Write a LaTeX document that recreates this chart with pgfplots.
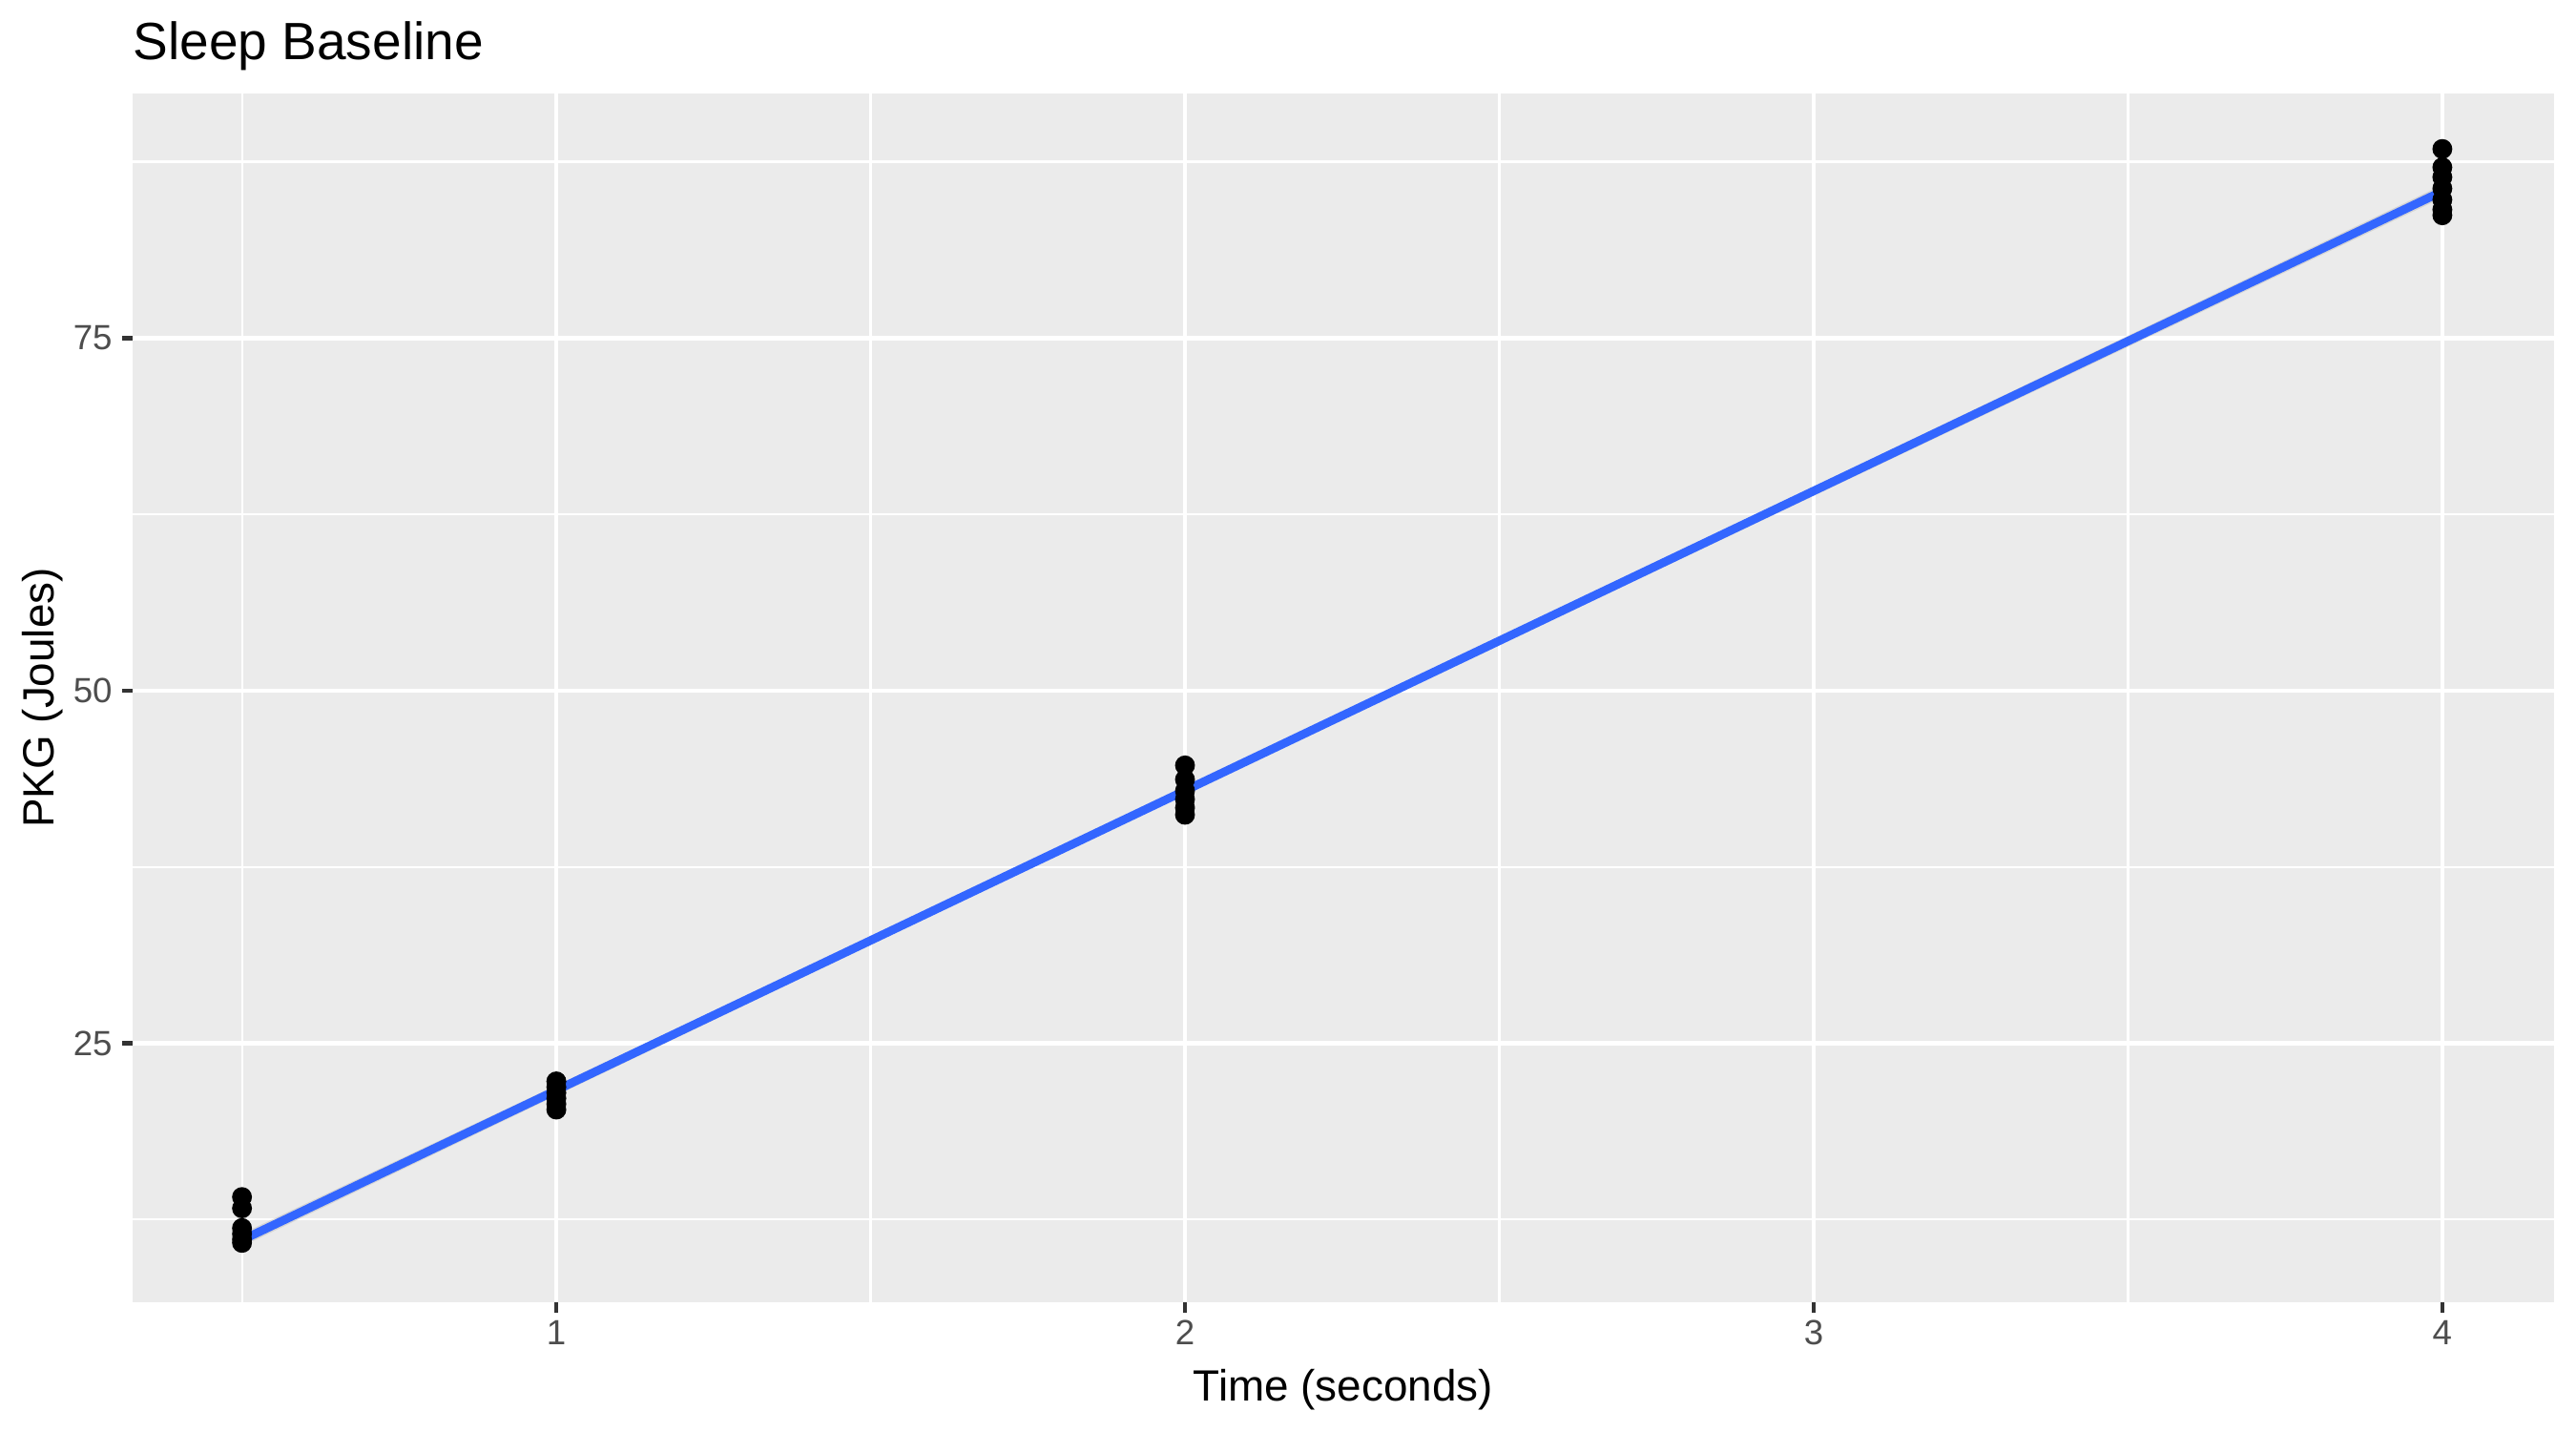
\documentclass[border=0pt]{standalone}
\usepackage{fontspec}
\setmainfont{Liberation Sans}
\usepackage{pgfplots}
\pgfplotsset{compat=1.18}
\definecolor{panelbg}{HTML}{EBEBEB}
\definecolor{ggblue}{HTML}{3366FF}
\definecolor{gray30}{HTML}{4D4D4D}
\definecolor{gray20}{HTML}{333333}
\begin{document}
\begin{tikzpicture}
\path[use as bounding box] (0,0) rectangle (648pt,360pt);
\begin{axis}[
  at={(33.36pt,32.4pt)}, anchor=south west,
  scale only axis, width=609.0pt, height=304.1pt,
  xmin=0.326, xmax=4.177, ymin=6.64, ymax=92.34,
  axis background/.style={fill=panelbg},
  axis line style={draw=none},
  xtick={1,2,3,4}, ytick={25,50,75},
  minor xtick={0.5,1.5,2.5,3.5}, minor ytick={12.5,37.5,62.5,87.5},
  grid=both,
  major grid style={white, line width=1.07pt},
  minor grid style={white, line width=0.53pt},
  major tick style={gray20, line width=1.07pt},
  minor tick length=0pt,
  major tick length=2.75pt,
  tick align=outside,
  tick pos=left,
  ticklabel style={font=\fontsize{8.8}{10}\selectfont, text=gray30},
  xticklabel style={inner sep=1.7pt},
  yticklabel style={inner sep=2.2pt},
  /pgf/number format/assume math mode=true,
]
\addplot[fill=gray!60, fill opacity=0.4, draw=none] coordinates {(0.5,10.6) (1.9,40.55) (4,84.95) (4,85.85) (1.9,40.95) (0.5,11.5)} -- cycle;
\addplot[only marks, mark=*, mark size=2.3pt, black] coordinates {
(0.5,14.1) (0.5,13.3) (0.5,11.9) (0.5,11.5) (0.5,11.1) (0.5,10.85)
(1,22.3) (1,21.9) (1,21.5) (1,21.1) (1,20.7) (1,20.3)
(2,44.7) (2,43.7) (2,42.9) (2,42.3) (2,41.7) (2,41.2)
(4,88.4) (4,87.1) (4,86.4) (4,85.6) (4,84.8) (4,84.1) (4,83.7)
};
\addplot[ggblue, line width=2.13pt] coordinates {(0.5,11.05) (4,85.4)};
\end{axis}
\node[anchor=base west, inner sep=0pt, font=\fontsize{13.2}{15}\selectfont] at (33.36pt,344.9pt) {Sleep Baseline};
\node[anchor=center, inner sep=0pt, font=\fontsize{11}{13}\selectfont] at (337.86pt,10.3pt) {Time (seconds)};
\node[anchor=center, inner sep=0pt, rotate=90, font=\fontsize{11}{13}\selectfont] at (10.6pt,184.45pt) {PKG (Joules)};
\end{tikzpicture}
\end{document}
